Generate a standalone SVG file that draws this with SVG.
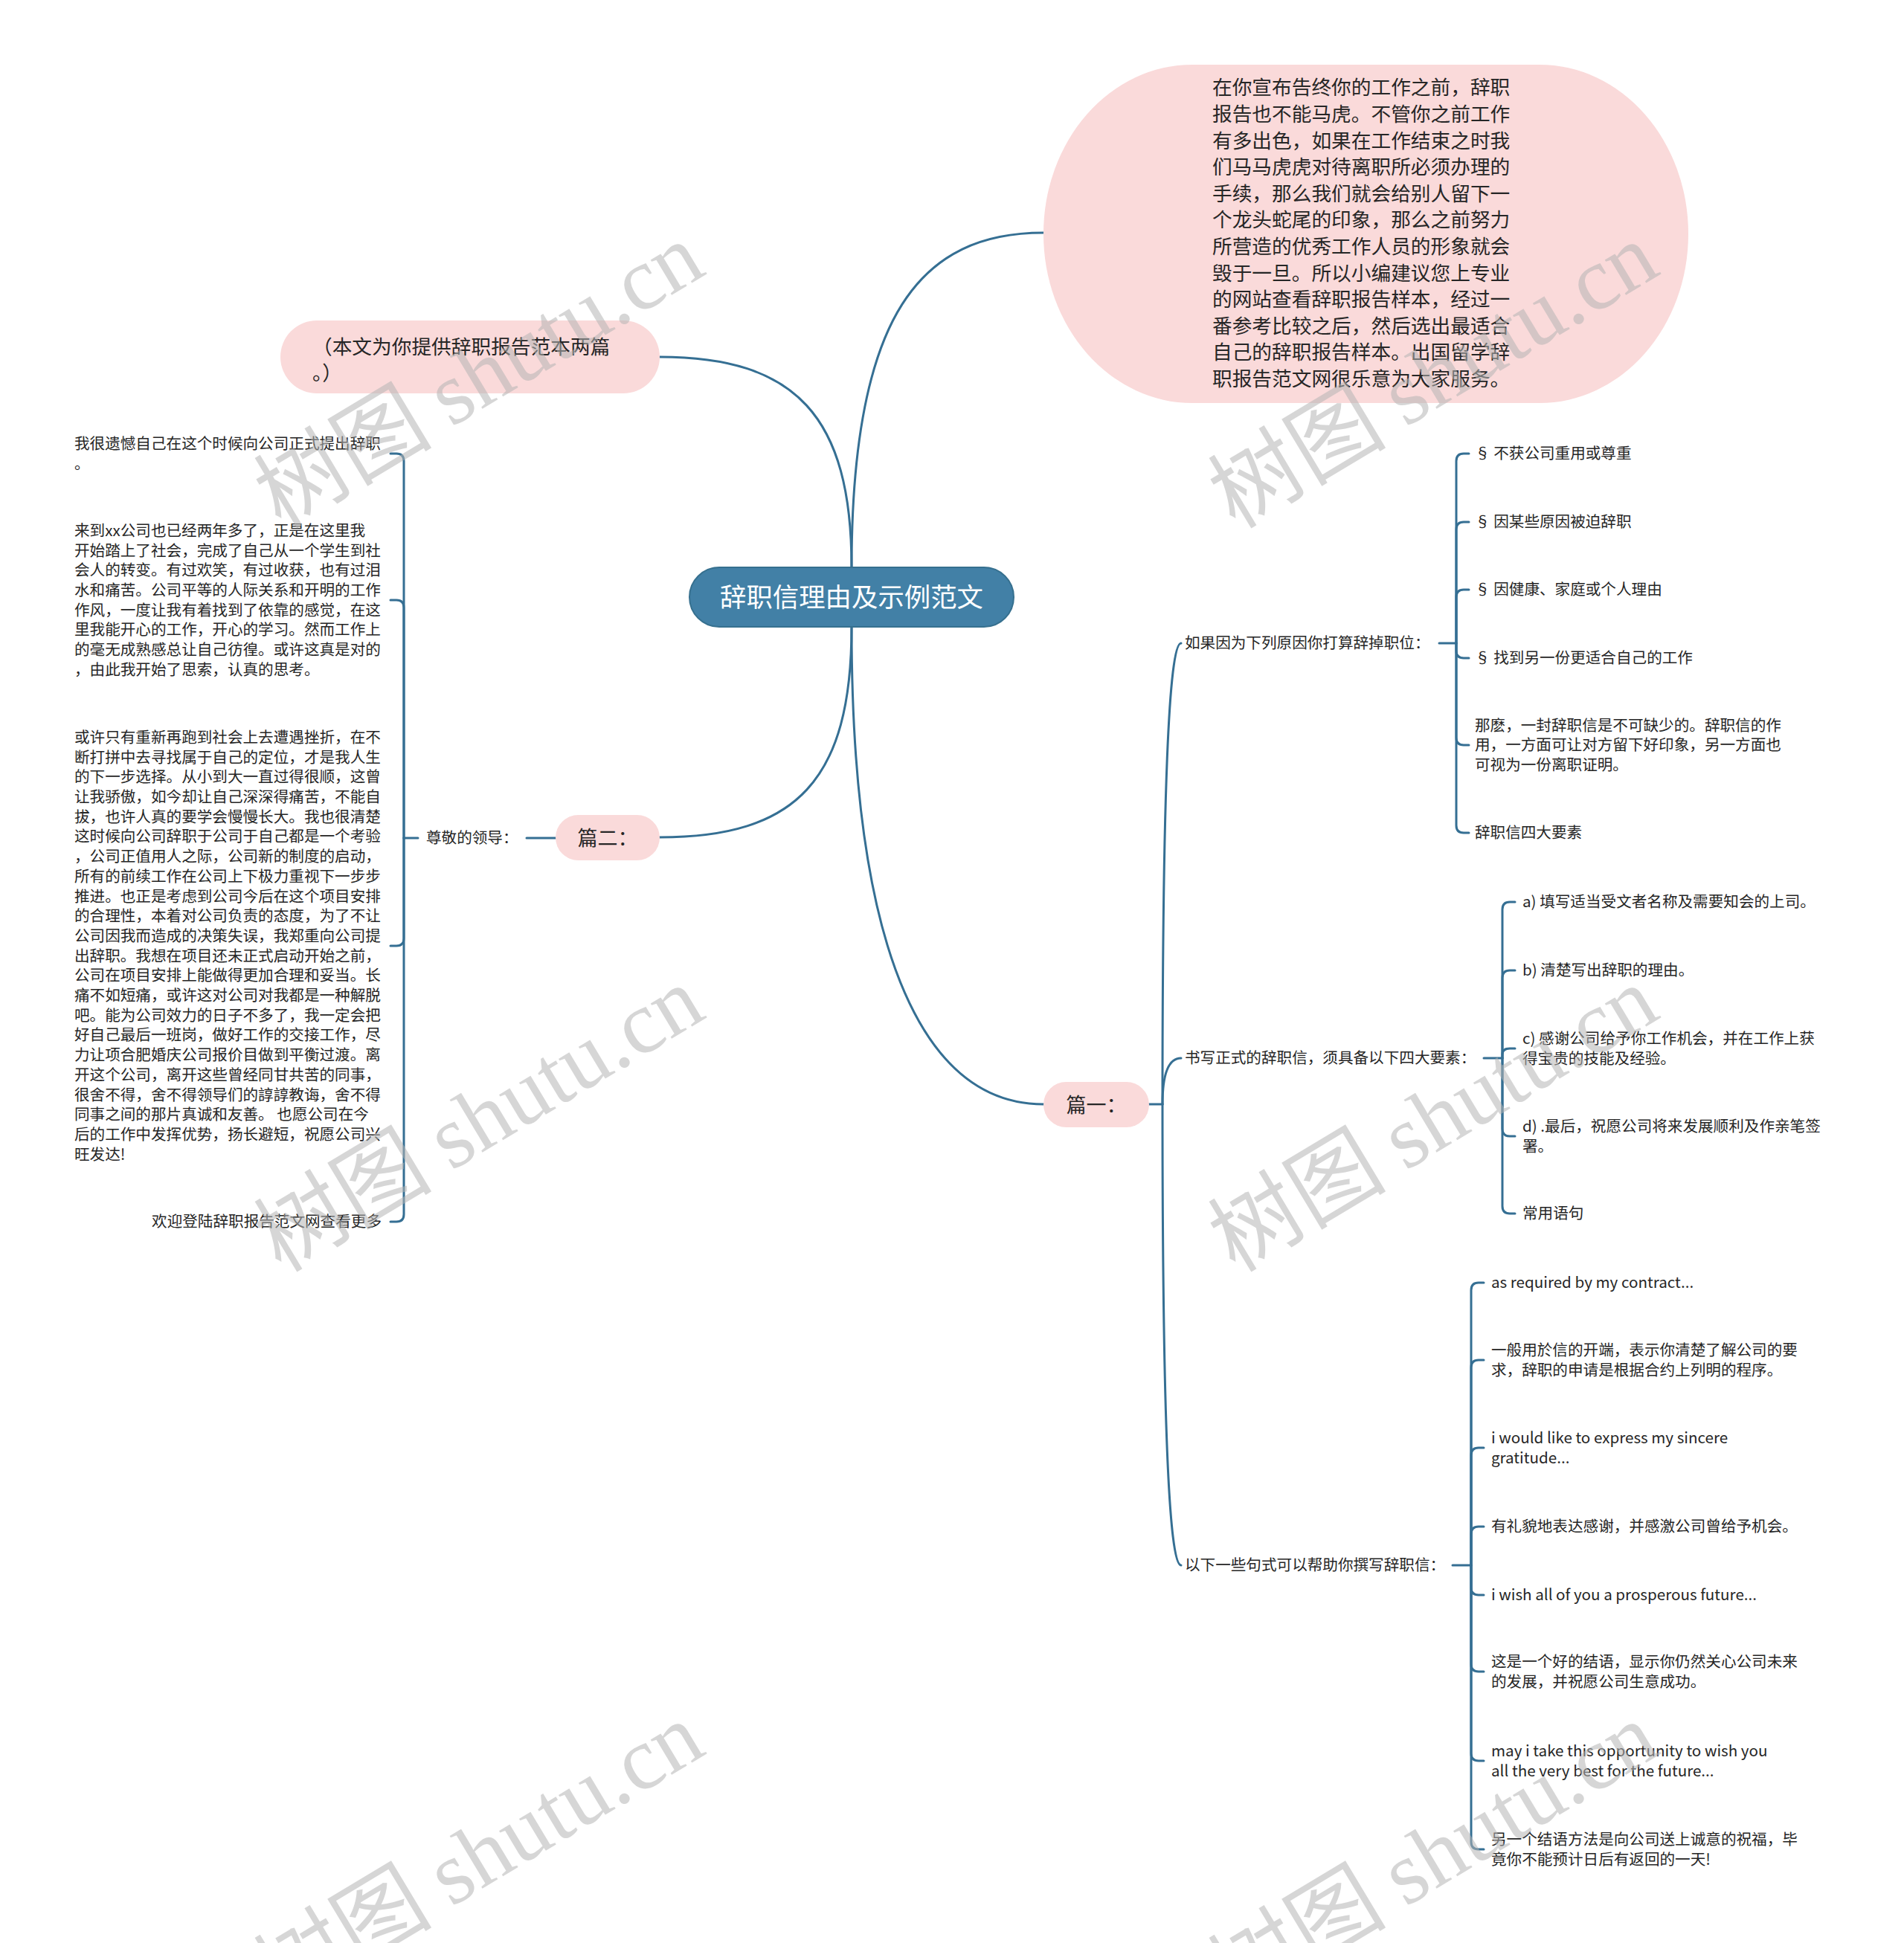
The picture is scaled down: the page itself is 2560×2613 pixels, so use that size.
<svg xmlns="http://www.w3.org/2000/svg" width="2560" height="2613" viewBox="0 0 2560 2613">
<style>
.ln{fill:none;stroke:#356f93;stroke-width:3;stroke-linecap:round}
.t{font-family:"Noto Sans CJK SC","Noto Sans",sans-serif;font-size:20.6px;fill:#262626}
.tb{font-family:"Noto Sans CJK SC","Noto Sans",sans-serif;font-size:26.7px;fill:#262626}
.pink{fill:#fadada}
.wm{font-family:"Noto Sans CJK SC","Liberation Serif",serif;font-size:120px;fill:#b4b4b4;fill-opacity:0.55}
.wm2{font-family:"Liberation Serif","Noto Serif",serif}
</style>
<rect width="2560" height="2613" fill="#ffffff"/>

<g id="connectors">
  <path class="ln" d="M1145 763 C1145 420 1240 313 1403 313"/>
  <path class="ln" d="M1145 763 C1145 560 1070 480 887 480"/>
  <path class="ln" d="M1145 843 C1145 1050 1070 1126 887 1126"/>
  <path class="ln" d="M1145 843 C1145 1300 1250 1485 1403 1485"/>
  <path class="ln" d="M708 1127 L747 1127"/>
  <path class="ln" d="M562 1127 L543 1127"/>
  <path class="ln" d="M543 1127 L543 620 Q543 610 533 610 L525 610"/>
  <path class="ln" d="M543 1127 L543 817 Q543 807 533 807 L525 807"/>
  <path class="ln" d="M543 1127 L543 1262 Q543 1272 533 1272 L525 1272"/>
  <path class="ln" d="M543 1127 L543 1633 Q543 1643 533 1643 L525 1643"/>
  <path class="ln" d="M1545 1485 L1563 1485"/>
  <path class="ln" d="M1563 1485 Q1563 865 1588 865"/>
  <path class="ln" d="M1563 1485 Q1563 1423 1588 1423"/>
  <path class="ln" d="M1563 1485 Q1563 2105 1588 2105"/>
  <path class="ln" d="M1935 865 L1958 865"/>
  <path class="ln" d="M1958 865 L1958 620 Q1958 610 1968 610 L1975 610"/>
  <path class="ln" d="M1958 865 L1958 712 Q1958 702 1968 702 L1975 702"/>
  <path class="ln" d="M1958 865 L1958 803 Q1958 793 1968 793 L1975 793"/>
  <path class="ln" d="M1958 865 L1958 875 Q1958 885 1968 885 L1975 885"/>
  <path class="ln" d="M1958 865 L1958 992 Q1958 1002 1968 1002 L1975 1002"/>
  <path class="ln" d="M1958 865 L1958 1110 Q1958 1120 1968 1120 L1975 1120"/>
  <path class="ln" d="M1995 1423 L2020 1423"/>
  <path class="ln" d="M2020 1423 L2020 1223 Q2020 1213 2030 1213 L2037 1213"/>
  <path class="ln" d="M2020 1423 L2020 1315 Q2020 1305 2030 1305 L2037 1305"/>
  <path class="ln" d="M2020 1423 L2020 1418 Q2020 1410 2030 1410 L2037 1410"/>
  <path class="ln" d="M2020 1423 L2020 1518 Q2020 1528 2030 1528 L2037 1528"/>
  <path class="ln" d="M2020 1423 L2020 1622 Q2020 1632 2030 1632 L2037 1632"/>
  <path class="ln" d="M1953 2105 L1978 2105"/>
  <path class="ln" d="M1978 2105 L1978 1735 Q1978 1725 1988 1725 L1995 1725"/>
  <path class="ln" d="M1978 2105 L1978 1839 Q1978 1829 1988 1829 L1995 1829"/>
  <path class="ln" d="M1978 2105 L1978 1957 Q1978 1947 1988 1947 L1995 1947"/>
  <path class="ln" d="M1978 2105 L1978 2063 Q1978 2053 1988 2053 L1995 2053"/>
  <path class="ln" d="M1978 2105 L1978 2135 Q1978 2145 1988 2145 L1995 2145"/>
  <path class="ln" d="M1978 2105 L1978 2238 Q1978 2248 1988 2248 L1995 2248"/>
  <path class="ln" d="M1978 2105 L1978 2358 Q1978 2368 1988 2368 L1995 2368"/>
  <path class="ln" d="M1978 2105 L1978 2477 Q1978 2487 1988 2487 L1995 2487"/>
</g>

<g id="root">
  <rect x="927" y="763" width="436" height="80" rx="40" ry="40" fill="#4280a6" stroke="#36708f" stroke-width="2"/>
  <text x="1145" y="815.5" text-anchor="middle" font-family="Noto Sans CJK SC, sans-serif" font-size="35.4" fill="#ffffff">辞职信理由及示例范文</text>
</g>

<g id="intro">
  <rect class="pink" x="1403" y="87" width="867" height="455" rx="200" ry="227"/>
  <text class="tb">
    <tspan x="1630" y="127.3">在你宣布告终你的工作之前，辞职</tspan>
    <tspan x="1630" y="162.9">报告也不能马虎。不管你之前工作</tspan>
    <tspan x="1630" y="198.5">有多出色，如果在工作结束之时我</tspan>
    <tspan x="1630" y="234.1">们马马虎虎对待离职所必须办理的</tspan>
    <tspan x="1630" y="269.7">手续，那么我们就会给别人留下一</tspan>
    <tspan x="1630" y="305.3">个龙头蛇尾的印象，那么之前努力</tspan>
    <tspan x="1630" y="340.9">所营造的优秀工作人员的形象就会</tspan>
    <tspan x="1630" y="376.5">毁于一旦。所以小编建议您上专业</tspan>
    <tspan x="1630" y="412.1">的网站查看辞职报告样本，经过一</tspan>
    <tspan x="1630" y="447.7">番参考比较之后，然后选出最适合</tspan>
    <tspan x="1630" y="483.3">自己的辞职报告样本。出国留学辞</tspan>
    <tspan x="1630" y="518.9">职报告范文网很乐意为大家服务。</tspan>
  </text>
</g>

<g id="note">
  <rect class="pink" x="377" y="431" width="510" height="98" rx="49" ry="49"/>
  <text class="tb">
    <tspan x="420" y="476.3">（本文为你提供辞职报告范本两篇</tspan>
    <tspan x="420" y="511.3">。）</tspan>
  </text>
</g>

<g id="part2">
  <rect class="pink" x="747" y="1096" width="140" height="61" rx="30.5" ry="30.5"/>
  <text x="817" y="1136.5" text-anchor="middle" font-family="Noto Sans CJK SC, sans-serif" font-size="27" fill="#262626">篇二：</text>
</g>

<g id="part2-salutation">
  <text class="t" x="573" y="1134.2">尊敬的领导：</text>
</g>

<g id="p2-c1">
  <text class="t">
    <tspan x="100" y="604">我很遗憾自己在这个时候向公司正式提出辞职</tspan>
    <tspan x="100" y="630.7">。</tspan>
  </text>
</g>

<g id="p2-c2">
  <text class="t">
    <tspan x="100" y="720.8">来到xx公司也已经两年多了，正是在这里我</tspan>
    <tspan x="100" y="747.5">开始踏上了社会，完成了自己从一个学生到社</tspan>
    <tspan x="100" y="774.2">会人的转变。有过欢笑，有过收获，也有过泪</tspan>
    <tspan x="100" y="800.9">水和痛苦。公司平等的人际关系和开明的工作</tspan>
    <tspan x="100" y="827.6">作风，一度让我有着找到了依靠的感觉，在这</tspan>
    <tspan x="100" y="854.3">里我能开心的工作，开心的学习。然而工作上</tspan>
    <tspan x="100" y="881">的毫无成熟感总让自己彷徨。或许这真是对的</tspan>
    <tspan x="100" y="907.7">，由此我开始了思索，认真的思考。</tspan>
  </text>
</g>

<g id="p2-c3">
  <text class="t">
    <tspan x="100" y="998.9">或许只有重新再跑到社会上去遭遇挫折，在不</tspan>
    <tspan x="100" y="1025.6">断打拼中去寻找属于自己的定位，才是我人生</tspan>
    <tspan x="100" y="1052.3">的下一步选择。从小到大一直过得很顺，这曾</tspan>
    <tspan x="100" y="1079">让我骄傲，如今却让自己深深得痛苦，不能自</tspan>
    <tspan x="100" y="1105.7">拔，也许人真的要学会慢慢长大。我也很清楚</tspan>
    <tspan x="100" y="1132.4">这时候向公司辞职于公司于自己都是一个考验</tspan>
    <tspan x="100" y="1159.1">，公司正值用人之际，公司新的制度的启动，</tspan>
    <tspan x="100" y="1185.8">所有的前续工作在公司上下极力重视下一步步</tspan>
    <tspan x="100" y="1212.5">推进。也正是考虑到公司今后在这个项目安排</tspan>
    <tspan x="100" y="1239.2">的合理性，本着对公司负责的态度，为了不让</tspan>
    <tspan x="100" y="1265.9">公司因我而造成的决策失误，我郑重向公司提</tspan>
    <tspan x="100" y="1292.6">出辞职。我想在项目还未正式启动开始之前，</tspan>
    <tspan x="100" y="1319.3">公司在项目安排上能做得更加合理和妥当。长</tspan>
    <tspan x="100" y="1346">痛不如短痛，或许这对公司对我都是一种解脱</tspan>
    <tspan x="100" y="1372.7">吧。能为公司效力的日子不多了，我一定会把</tspan>
    <tspan x="100" y="1399.4">好自己最后一班岗，做好工作的交接工作，尽</tspan>
    <tspan x="100" y="1426.1">力让项合肥婚庆公司报价目做到平衡过渡。离</tspan>
    <tspan x="100" y="1452.8">开这个公司，离开这些曾经同甘共苦的同事，</tspan>
    <tspan x="100" y="1479.5">很舍不得，舍不得领导们的諄諄教诲，舍不得</tspan>
    <tspan x="100" y="1506.2">同事之间的那片真诚和友善。 也愿公司在今</tspan>
    <tspan x="100" y="1532.9">后的工作中发挥优势，扬长避短，祝愿公司兴</tspan>
    <tspan x="100" y="1559.6">旺发达!</tspan>
  </text>
</g>

<g id="p2-c4">
  <text class="t" x="513" y="1650.2" text-anchor="end">欢迎登陆辞职报告范文网查看更多</text>
</g>

<g id="part1">
  <rect class="pink" x="1403" y="1455" width="142" height="61" rx="30.5" ry="30.5"/>
  <text x="1474" y="1495.5" text-anchor="middle" font-family="Noto Sans CJK SC, sans-serif" font-size="27" fill="#262626">篇一：</text>
</g>

<g id="p1-a">
  <text class="t" x="1593" y="872.2">如果因为下列原因你打算辞掉职位：</text>
</g>
<g id="p1-a1"><text class="t" x="1983" y="617.2">§ 不获公司重用或尊重</text></g>
<g id="p1-a2"><text class="t" x="1983" y="709.2">§ 因某些原因被迫辞职</text></g>
<g id="p1-a3"><text class="t" x="1983" y="800.2">§ 因健康、家庭或个人理由</text></g>
<g id="p1-a4"><text class="t" x="1983" y="892.2">§ 找到另一份更适合自己的工作</text></g>
<g id="p1-a5">
  <text class="t">
    <tspan x="1983" y="982.5">那麽，一封辞职信是不可缺少的。辞职信的作</tspan>
    <tspan x="1983" y="1009.2">用，一方面可让对方留下好印象，另一方面也</tspan>
    <tspan x="1983" y="1035.9">可视为一份离职证明。</tspan>
  </text>
</g>
<g id="p1-a6"><text class="t" x="1983" y="1127.2">辞职信四大要素</text></g>

<g id="p1-b">
  <text class="t" x="1593" y="1430.2">书写正式的辞职信，须具备以下四大要素：</text>
</g>
<g id="p1-b1"><text class="t" x="2047" y="1220.2">a) 填写适当受文者名称及需要知会的上司。</text></g>
<g id="p1-b2"><text class="t" x="2047" y="1312.2">b) 清楚写出辞职的理由。</text></g>
<g id="p1-b3">
  <text class="t">
    <tspan x="2047" y="1403.9">c) 感谢公司给予你工作机会，并在工作上获</tspan>
    <tspan x="2047" y="1430.6">得宝贵的技能及经验。</tspan>
  </text>
</g>
<g id="p1-b4">
  <text class="t">
    <tspan x="2047" y="1521.9">d) .最后，祝愿公司将来发展顺利及作亲笔签</tspan>
    <tspan x="2047" y="1548.6">署。</tspan>
  </text>
</g>
<g id="p1-b5"><text class="t" x="2047" y="1639.2">常用语句</text></g>

<g id="p1-c">
  <text class="t" x="1593" y="2112.2">以下一些句式可以帮助你撰写辞职信：</text>
</g>
<g id="p1-c1"><text class="t" x="2005" y="1732.2">as required by my contract...</text></g>
<g id="p1-c2">
  <text class="t">
    <tspan x="2005" y="1822.9">一般用於信的开端，表示你清楚了解公司的要</tspan>
    <tspan x="2005" y="1849.6">求，辞职的申请是根据合约上列明的程序。</tspan>
  </text>
</g>
<g id="p1-c3">
  <text class="t">
    <tspan x="2005" y="1940.9">i would like to express my sincere</tspan>
    <tspan x="2005" y="1967.6">gratitude...</tspan>
  </text>
</g>
<g id="p1-c4"><text class="t" x="2005" y="2060.2">有礼貌地表达感谢，并感激公司曾给予机会。</text></g>
<g id="p1-c5"><text class="t" x="2005" y="2152.2">i wish all of you a prosperous future...</text></g>
<g id="p1-c6">
  <text class="t">
    <tspan x="2005" y="2241.9">这是一个好的结语，显示你仍然关心公司未来</tspan>
    <tspan x="2005" y="2268.6">的发展，并祝愿公司生意成功。</tspan>
  </text>
</g>
<g id="p1-c7">
  <text class="t">
    <tspan x="2005" y="2361.9">may i take this opportunity to wish you</tspan>
    <tspan x="2005" y="2388.6">all the very best for the future...</tspan>
  </text>
</g>
<g id="p1-c8">
  <text class="t">
    <tspan x="2005" y="2480.9">另一个结语方法是向公司送上诚意的祝福，毕</tspan>
    <tspan x="2005" y="2507.6">竟你不能预计日后有返回的一天!</tspan>
  </text>
</g>

<g id="watermarks">
  <text class="wm" transform="translate(665 540) rotate(-31)" text-anchor="middle">树图 <tspan class="wm2">shutu.cn</tspan></text>
  <text class="wm" transform="translate(1948 540) rotate(-31)" text-anchor="middle">树图 <tspan class="wm2">shutu.cn</tspan></text>
  <text class="wm" transform="translate(665 1540) rotate(-31)" text-anchor="middle">树图 <tspan class="wm2">shutu.cn</tspan></text>
  <text class="wm" transform="translate(1948 1540) rotate(-31)" text-anchor="middle">树图 <tspan class="wm2">shutu.cn</tspan></text>
  <text class="wm" transform="translate(665 2530) rotate(-31)" text-anchor="middle">树图 <tspan class="wm2">shutu.cn</tspan></text>
  <text class="wm" transform="translate(1948 2530) rotate(-31)" text-anchor="middle">树图 <tspan class="wm2">shutu.cn</tspan></text>
</g>
</svg>
